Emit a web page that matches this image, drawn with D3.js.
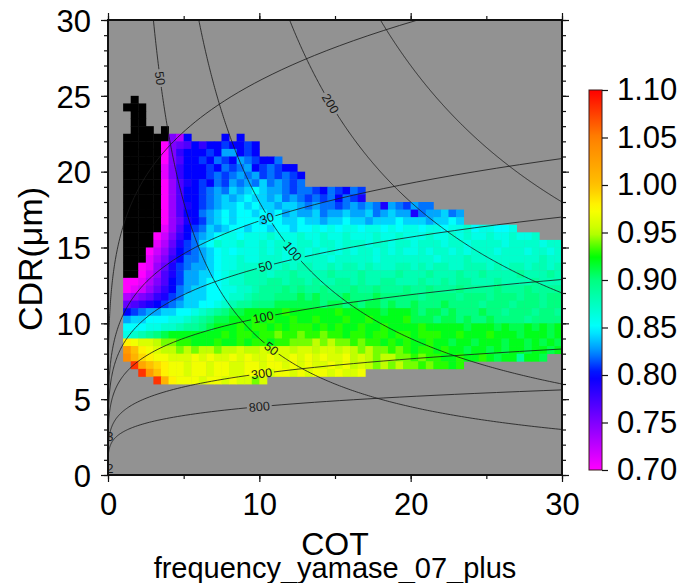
<!DOCTYPE html>
<html><head><meta charset="utf-8">
<script src="https://cdn.jsdelivr.net/npm/d3@7"></script>
<style>
body{margin:0;background:#fff;}
svg{display:block;font-family:"Liberation Sans",Arial,Helvetica,sans-serif;}
</style>
</head><body>
<svg id="c" width="684" height="583"></svg>
<script>
// ---------------- data ----------------
// COT bin starts (bin width 0.5)
const cotCols = [1.0,1.5,2.0,2.5,3.0,3.5,4.0,4.5,5.0,5.5,6.0,6.5,7.0,7.5,8.0,8.5,9.0,9.5,10.0,10.5,
  11.0,11.5,12.0,12.5,13.0,13.5,14.0,14.5,15.0,15.5,16.0,16.5,17.0,17.5,18.0,18.5,19.0,19.5,20.0,20.5,
  21.0,21.5,22.0,22.5,23.0,23.5,24.0,24.5,25.0,25.5,26.0,26.5,27.0,27.5,28.0,28.5,29.0,29.5];
// CDR bin starts, top row first (bin height 0.5)
const cdrRows = [24.5,24.0,23.5,23.0,22.5,22.0,21.5,21.0,20.5,20.0,19.5,19.0,18.5,18.0,17.5,17.0,16.5,16.0,
  15.5,15.0,14.5,14.0,13.5,13.0,12.5,12.0,11.5,11.0,10.5,10.0,9.5,9.0,8.5,8.0,7.5,7.0,6.5,6.0];
const binWidth = 0.5;
// value codes: "a"=0.70, "b"=0.71, ... step 0.01 ;  "#" = below range (black) ; "." = no data
const valueCodes = "abcdefghijklmnopqrstuvwxyzABCDEFGHIJKLMNO";
const codeBase = 0.70, codeStep = 0.01;
const cellRows = [
  ".#",
  "###",
  ".##",
  ".##",
  ".###.#",
  "######fdk....k.k",
  "#####afghkikklkklk",
  "#####afikkklknnklk",
  "#####afh"+"kklkmlknmlkkm",
  "#####bfi"+"kkklkmlmnklmlkk",
  "#####bfi"+"kkklmlmnmnlmlmlk",
  "#####aehj"+"klkmlnmnmomnmlm",
  "#####aehk"+"klmnmonoponnmlm"+"mlkmlkml",
  "#####aehk"+"klmnonopoonomnmlmlmkmlj",
  "#####aehj"+"klmnoopopoonoon"+"mnmmlmnmnmjnmlnmm",
  "#####aehk"+"kmnopoppopopnon"+"nomnnonnomnonnjmnnomn",
  "#####aegj"+"klnopopppoppoop"+"oonoopoonooopooonoopo",
  "#####behk"+"lmonoppoppoppop"+"pqpqpqqpqqpqpqqpqqpqqrpqqppq",
  "####acfik"+"mnopqqpqqqrqqqr"+"qqrqqrqqqrqqrqqqrqqrqrqqrqqrqqr",
  "####bdgjl"+"moprqqrqqrqrrqr"+"rqrrqrrrqrrqrrqrrrqrrqrrrrqrrrrqrr",
  "###acehkl"+"mnopqpqqqrqrqqr"+"qrqrqrqrrqrqrqqrqrrqrqrrrqrrrqrrqr",
  "###bdfikm"+"mnopqqrqqrrrqrr"+"rrrqrrrrrqrrrrrrrqrrrsrrrrrrrrrsrr",
  "##abegjlm"+"nnopqqrrrsrrsrs"+"srrsrssrsrrrssrsrssrrsssrsrssrssrs",
  "##acehjln"+"noopqrrsssrssts"+"ssstssstss"+"sstssstsss"+"tsstssssts"+"ssts",
  "aabdfhkln"+"noppqrrsssttstt"+"stssttstss"+"ttssstssts"+"ttssstssss"+"tsss",
  "abcegikmn"+"ooppqqrrstttutu"+"ttutttuttutttuttutttuttttutttutttt",
  "defgijlmo"+"ooppqrrstttuuuv"+"uvuuuvuuuvuuuuutuuuutuuutuuutuutuu",
  "ghijklmno"+"oppqrsttuuuvvvv"+"vvuvvuvuvvuvuuvuuuvuuuutuuutuuutuu",
  "klmnnoopp"+"qrstuvvwwwwwxww"+"wwwwxwwwwwvwww"+"vuvvuvuuuvuutuuutuut",
  "noopppqqr"+"stuvvwwwxwxwwxw"+"wxwwwxwwxwwwwx"+"vvvuvvuvuuvuuuutuuuu",
  "pppqqrrst"+"tuvwwwxwxxwxwxx"+"xwxwxwwxwwxwwwwxwwwwwvwwwvwvvwvwvw",
  "qrstuvwww"+"wwwwxwxxwxxyxxy"+"xxyxxwxxwxxwxxwxxxwwxwwwxwwwvwwwvw",
  "CBAAzyyxx"+"wwwxwwxwxxwxxyy"+"yzyzyyxyxxwxwxwwxwwvwwvwwwvwwvwvwv",
  "HECBAzzyz"+"yzzyzzAzzAzAAzA"+"AzAAzAzyzyyxyxwxxwxwwvwwvwvwwvwwvw",
  "IFDCBBAAA"+"BABAABABAABAABA"+"BABAABzAzyzzyyxyxxwwxwwxwvwwtwwv",
  ".MGEDCBBA"+"BBABBAABBABBABA"+"BAABABzAzyzyzyyxyxxwx",
  "..MHECBBA"+"BBABBAABBBABBAB"+"ABBABAAB",
  "....MFCBB"+"BABBABAAyA"
];
// axis ticks
const xTickLabels = [0,10,20,30];
const xMinorTicks = [0,5,10,15,20,25,30];
const yTickLabels = [0,5,10,15,20,25,30];
const yMinorTicks = [0,1,2,3,4,5,6,7,8,9,10,11,12,13,14,15,16,17,18,19,20,21,22,23,24,25,26,27,28,29,30];
// colour bar
const colorbarTicks = [0.70,0.75,0.80,0.85,0.90,0.95,1.00,1.05,1.10];
const colorStopValues = [0.70,0.75,0.80,0.825,0.85,0.90,0.925,0.95,0.975,1.00,1.05,1.10];
const colorStopColors = ["#ff00ff","#8000ff","#0000ff","#0090ff","#00ffff","#00ff80","#00ff00","#c0ff00","#ffff00","#ffc000","#ff8000","#ff0000"];
// reference isolines: liquid water path (g/m2) and droplet number (cm-3)
const lwpLevels = [50,100,200,300];
const ndLevels = [10,30,50,100,300,800];
const lwpFactor = 1.8;   // COT*CDR = 1.8*LWP
const ndCoef = 41.2;     // CDR = ndCoef * COT^0.2 * Nd^-0.4
const lwpLabels = [{level:50,cot:3.44},{level:200,cot:14.7},{level:100,cot:12.2},{level:50,cot:10.8}];
const ndLabels = [{level:30,cot:10.5},{level:50,cot:10.4},{level:100,cot:10.25},{level:300,cot:10.15},{level:800,cot:10.0}];
const edgeLabels = [{text:"3",cdr:2.5},{text:"2",cdr:0.45}];

// ---------------- drawing ----------------
const svg = d3.select("#c");
const x = d3.scaleLinear().domain([0,30]).range([108,562]);
const y = d3.scaleLinear().domain([0,30]).range([475,20]);
const color = d3.scaleLinear().domain(colorStopValues).range(colorStopColors)
  .interpolate(d3.interpolateRgb).clamp(true);

const defs = svg.append("defs");
defs.append("clipPath").attr("id","plotClip").append("rect")
  .attr("x",x(0)).attr("y",y(30)).attr("width",x(30)-x(0)).attr("height",y(0)-y(30));

// background
svg.append("rect").attr("x",x(0)).attr("y",y(30)).attr("width",x(30)-x(0)).attr("height",y(0)-y(30))
  .attr("fill","#929292");

// cells
const cells = [];
cellRows.forEach((row,ri)=>{
  const s = row.padEnd(cotCols.length,".").slice(0,cotCols.length);
  for (let ci=0; ci<cotCols.length; ci++){
    const ch = s[ci];
    if (ch===".") continue;
    const v = ch==="#" ? null : codeBase + codeStep*valueCodes.indexOf(ch);
    cells.push({cot:cotCols[ci], cdr:cdrRows[ri], v});
  }
});
svg.append("g").attr("clip-path","url(#plotClip)").selectAll("rect").data(cells).join("rect")
  .attr("x",d=>x(d.cot)).attr("y",d=>y(d.cdr+binWidth))
  .attr("width",d=>x(d.cot+binWidth)-x(d.cot)+0.4)
  .attr("height",d=>y(d.cdr)-y(d.cdr+binWidth)+0.4)
  .attr("fill",d=>d.v===null?"#000":color(d.v));

// isolines
const lwpFn = L => t => lwpFactor*L/t;
const ndFn = N => t => ndCoef*Math.pow(t,0.2)*Math.pow(N,-0.4);
const line = d3.line().x(d=>x(d[0])).y(d=>y(d[1]));
const curves = [];
lwpLevels.forEach(L=>{
  const f = lwpFn(L), t0 = lwpFactor*L/31, pts=[];
  for (let i=0;i<=300;i++){ const t=t0*Math.pow(30.5/t0,i/300); pts.push([t,f(t)]); }
  curves.push(pts);
});
ndLevels.forEach(N=>{
  const f = ndFn(N), pts=[[0,0]];
  for (let i=0;i<=300;i++){ const t=1e-6*Math.pow(30.5/1e-6,i/300); pts.push([t,f(t)]); }
  curves.push(pts);
});

// labels: positions + angles
const fontLab = 12.5;
const labs = [];
function addLab(f, t, text){
  const p1=[x(t),y(f(t))], p2=[x(t+0.05),y(f(t+0.05))];
  const ang = Math.atan2(p2[1]-p1[1], p2[0]-p1[0])*180/Math.PI;
  labs.push({text, cx:p1[0], cy:p1[1], ang, w:text.length*fontLab*0.556+4});
}
lwpLabels.forEach(d=>addLab(lwpFn(d.level), d.cot, String(d.level)));
ndLabels.forEach(d=>addLab(ndFn(d.level), d.cot, String(d.level)));

const mask = defs.append("mask").attr("id","gapMask").attr("maskUnits","userSpaceOnUse")
  .attr("x",0).attr("y",0).attr("width",684).attr("height",583);
mask.append("rect").attr("x",0).attr("y",0).attr("width",684).attr("height",583).attr("fill","#fff");
mask.selectAll("rect.g").data(labs).join("rect").attr("class","g")
  .attr("x",d=>-d.w/2).attr("y",-6).attr("width",d=>d.w).attr("height",12).attr("fill","#000")
  .attr("transform",d=>`translate(${d.cx},${d.cy}) rotate(${d.ang})`);

const cg = svg.append("g").attr("clip-path","url(#plotClip)");
cg.append("g").attr("mask","url(#gapMask)").selectAll("path").data(curves).join("path")
  .attr("d",line).attr("fill","none").attr("stroke","#1a1a1a").attr("stroke-opacity",0.85).attr("stroke-width",0.95);
cg.selectAll("text.lab").data(labs).join("text").attr("class","lab")
  .attr("transform",d=>`translate(${d.cx},${d.cy}) rotate(${d.ang})`)
  .attr("text-anchor","middle").attr("dy","0.35em").attr("font-size",fontLab).attr("fill","#1a1a1a")
  .text(d=>d.text);
cg.selectAll("text.edge").data(edgeLabels).join("text").attr("class","edge")
  .attr("x",x(0)-1.5).attr("y",d=>y(d.cdr)).attr("dy","0.35em").attr("font-size",fontLab).attr("fill","#1a1a1a")
  .text(d=>d.text);

// frame
svg.append("rect").attr("x",x(0)).attr("y",y(30)).attr("width",x(30)-x(0)).attr("height",y(0)-y(30))
  .attr("fill","none").attr("stroke","#111").attr("stroke-width",2);

// axes
function styleAxis(g){
  g.select(".domain").remove();
  g.selectAll(".tick line").attr("stroke","#111").attr("stroke-width",1.2);
  g.selectAll(".tick text").attr("font-size",31).attr("fill","#000").attr("font-family","Liberation Sans, Arial, sans-serif");
}
const none = ()=>"";
svg.append("g").attr("transform",`translate(0,${y(0)})`)
  .call(d3.axisBottom(x).tickValues(xMinorTicks).tickSize(4).tickFormat(none)).call(styleAxis);
svg.append("g").attr("transform",`translate(0,${y(0)})`)
  .call(d3.axisBottom(x).tickValues(xTickLabels).tickSize(7).tickPadding(11).tickFormat(d3.format("d"))).call(styleAxis);
svg.append("g").attr("transform",`translate(0,${y(30)})`)
  .call(d3.axisTop(x).tickValues(xMinorTicks).tickSize(4).tickFormat(none)).call(styleAxis);
svg.append("g").attr("transform",`translate(0,${y(30)})`)
  .call(d3.axisTop(x).tickValues(xTickLabels).tickSize(7).tickFormat(none)).call(styleAxis);
svg.append("g").attr("transform",`translate(${x(0)},0)`)
  .call(d3.axisLeft(y).tickValues(yMinorTicks).tickSize(4).tickFormat(none)).call(styleAxis);
const yl = svg.append("g").attr("transform",`translate(${x(0)},0)`)
  .call(d3.axisLeft(y).tickValues(yTickLabels).tickSize(7).tickPadding(10).tickFormat(d3.format("d"))).call(styleAxis);
yl.selectAll(".tick text").attr("dy","0.36em");
svg.append("g").attr("transform",`translate(${x(30)},0)`)
  .call(d3.axisRight(y).tickValues(yMinorTicks).tickSize(4).tickFormat(none)).call(styleAxis);
svg.append("g").attr("transform",`translate(${x(30)},0)`)
  .call(d3.axisRight(y).tickValues(yTickLabels).tickSize(7).tickFormat(none)).call(styleAxis);

// axis titles
svg.append("text").attr("x",(x(0)+x(30))/2).attr("y",555).attr("text-anchor","middle")
  .attr("font-size",32).attr("fill","#000").text("COT");
svg.append("text").attr("x",(x(0)+x(30))/2).attr("y",578).attr("text-anchor","middle")
  .attr("font-size",29).attr("fill","#000").text("frequency_yamase_07_plus");
svg.append("text").attr("transform","translate(42,259) rotate(-90)").attr("text-anchor","middle")
  .attr("font-size",34).attr("fill","#000").text("CDR(\u03bcm)");

// colour bar
const cb = d3.scaleLinear().domain([0.70,1.10]).range([470,90]);
const grad = defs.append("linearGradient").attr("id","cbGrad").attr("x1",0).attr("y1",1).attr("x2",0).attr("y2",0);
d3.range(0,1.0001,0.02).forEach(t=>{
  grad.append("stop").attr("offset",t).attr("stop-color",color(0.70+0.40*t));
});
svg.append("rect").attr("x",589).attr("y",cb(1.10)).attr("width",13).attr("height",cb(0.70)-cb(1.10))
  .attr("fill","url(#cbGrad)").attr("stroke","#3a1a1a").attr("stroke-width",1);
svg.append("g").attr("transform","translate(602,0)")
  .call(d3.axisRight(cb).tickValues(colorbarTicks).tickSize(6).tickPadding(9).tickFormat(d3.format(".2f")))
  .call(styleAxis);
</script>
</body></html>
